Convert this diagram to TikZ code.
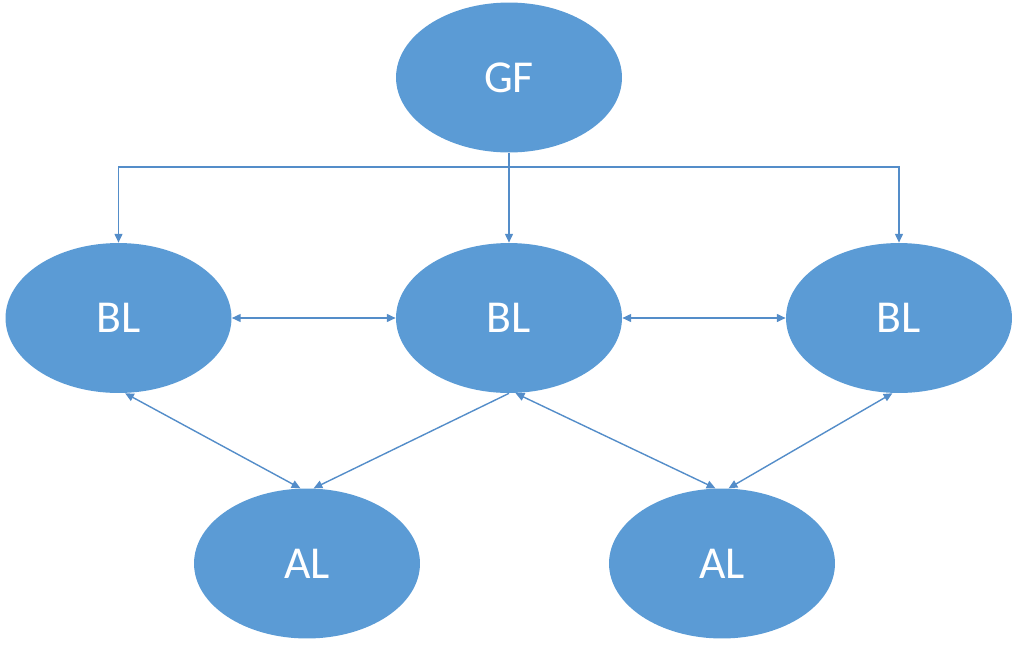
\documentclass[tikz,border=0pt]{standalone}
\usepackage{fontspec}
\setmainfont{Carlito}
\usepackage{xcolor}
\usepackage{tikz}
\usetikzlibrary{arrows.meta,shapes.geometric}
\definecolor{officeblue}{RGB}{91,155,213}
\definecolor{linkblue}{RGB}{84,141,201}

\begin{document}
\begin{tikzpicture}[x=0.02cm, y=-0.02cm,
  blob/.style = {ellipse, fill=officeblue, inner sep=0pt, minimum width=4.52cm,
                 minimum height=3cm, text=white, font=\fontsize{26}{30}\selectfont},
  link/.style = {draw=linkblue, line width=0.8pt},
  tip/.style = {-{Triangle[length=5pt,width=4.5pt]}},
  tips/.style = {{Triangle[length=5pt,width=4.5pt]}-{Triangle[length=5pt,width=4.5pt]}}]

\useasboundingbox (0,0) rectangle (1018,646);

\node (gf) at (509,77.5) [blob]{GF};
\node (bl1) at (118.5,318) [blob]{BL};
\node (bl2) at (509,318) [blob]{BL};
\node (bl3) at (899,318) [blob]{BL};
\node (al1) at (307,563.5) [blob]{AL};
\node (al2) at (722,563.5) [blob]{AL};

\coordinate (bus) at (509,167);

\draw[link,tip] (gf.south) -- (bl2.north);
\draw[link,tip] (bus) -| (bl1.north);
\draw[link,tip] (bus) -| (bl3.north);

\draw[link,tips] (bl1.east) -- (bl2.west);
\draw[link,tips] (bl2.east) -- (bl3.west);

\draw[link,tips] (bl1.-85) -- (al1.95);
\draw[link,tip] (bl2.south) -- (al1.85);
\draw[link,tips] (bl2.-85) -- (al2.95);
\draw[link,tips] (bl3.-95) -- (al2.85);

\end{tikzpicture}
\end{document}
